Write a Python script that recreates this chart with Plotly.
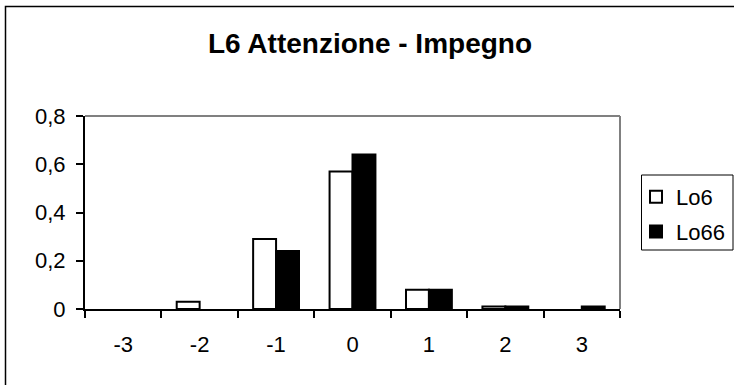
import plotly.graph_objects as go

# Punteggi (categorie) e frequenze relative delle due serie
categories = ["-3", "-2", "-1", "0", "1", "2", "3"]
lo6_values = [0.0, 0.03, 0.29, 0.57, 0.08, 0.01, 0.0]
lo66_values = [0.0, 0.0, 0.24, 0.64, 0.08, 0.01, 0.01]
y_ticks = [0, 0.2, 0.4, 0.6, 0.8]

FONT = "Arial, 'Liberation Sans', sans-serif"


def visible(values):
    # le frequenze nulle non disegnano alcuna barra
    return [v if v > 0 else None for v in values]


fig = go.Figure()
fig.add_trace(go.Bar(
    name="Lo6", x=categories, y=visible(lo6_values), legendgroup="a",
    marker=dict(color="white", line=dict(color="black", width=2)),
))
fig.add_trace(go.Bar(
    name="Lo66", x=categories, y=visible(lo66_values), legendgroup="b",
    marker=dict(color="black", line=dict(color="black", width=2)),
))

L, R, T, B = 85, 114, 116, 76
W, H = 734, 385
pw, ph = W - L - R, H - T - B


def px_x(px):
    return (px - L) / pw


def px_y(py):
    return (H - B - py) / ph


fig.update_layout(
    width=W, height=H,
    margin=dict(l=L, r=R, t=T, b=B, pad=0, autoexpand=False),
    paper_bgcolor="white", plot_bgcolor="white",
    separators=",.",
    barmode="group", bargap=0.4, bargroupgap=0,
    font=dict(family=FONT, size=22, color="black"),
    title=dict(
        text="<b>L6 Attenzione - Impegno</b>",
        font=dict(family=FONT, size=28, color="black"),
        x=370 / W, xanchor="center", xref="container",
        y=1 - 43 / H, yanchor="middle", yref="container",
    ),
    xaxis=dict(
        type="category", tickson="boundaries",
        ticks="outside", ticklen=7, tickwidth=1.5, tickcolor="black",
        showline=True, linecolor="black", linewidth=2,
        showgrid=False, zeroline=False,
        ticklabelstandoff=15,
        tickfont=dict(size=22),
    ),
    yaxis=dict(
        range=[0, 0.8], tickvals=y_ticks,
        ticks="outside", ticklen=7, tickwidth=1.5, tickcolor="black",
        showline=True, linecolor="black", linewidth=2,
        showgrid=False, zeroline=False,
        ticklabelstandoff=6,
        tickfont=dict(size=22),
    ),
    legend=dict(
        x=px_x(636), xanchor="left", y=px_y(176), yanchor="top",
        borderwidth=0, bgcolor="rgba(0,0,0,0)",
        font=dict(size=22), traceorder="grouped", tracegroupgap=3,
        itemwidth=30,
    ),
    shapes=[
        # bordo superiore e destro dell'area del grafico
        dict(type="line", xref="paper", yref="paper", x0=0, x1=1, y0=1, y1=1,
             line=dict(color="#808080", width=2)),
        dict(type="line", xref="paper", yref="paper", x0=1, x1=1, y0=0, y1=1,
             line=dict(color="#808080", width=2)),
        # riquadro della legenda
        dict(type="rect", xref="paper", yref="paper",
             x0=px_x(641.5), x1=px_x(733), y0=px_y(250), y1=px_y(175),
             line=dict(color="black", width=1)),
        # cornice esterna del grafico
        dict(type="rect", xref="paper", yref="paper",
             x0=px_x(5.5), x1=px_x(790), y0=px_y(440), y1=px_y(6.5),
             line=dict(color="black", width=1.5), layer="below"),
    ],
)

fig.write_html("out.html")
